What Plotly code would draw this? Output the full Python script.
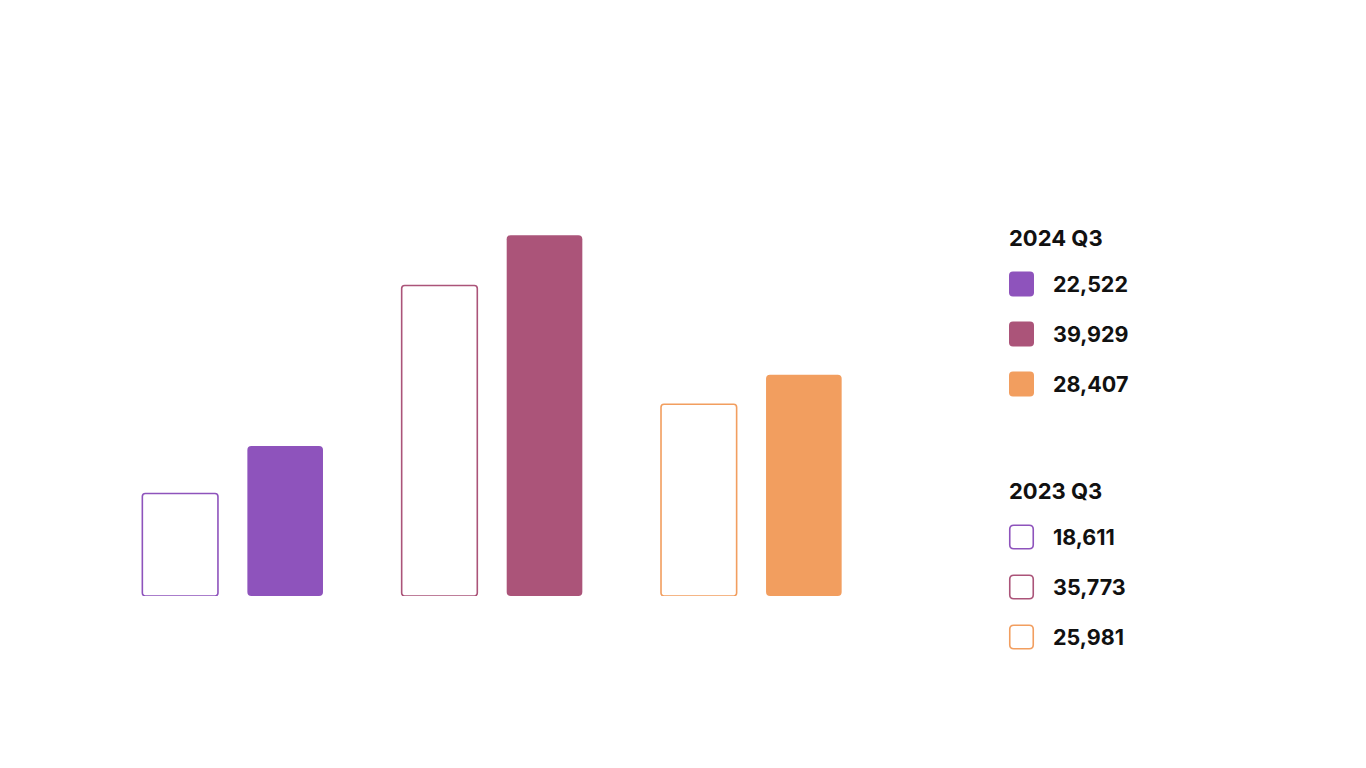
import plotly.graph_objects as go

groups = ["A", "B", "C"]
values_2024 = [22522, 39929, 28407]
values_2023 = [18611, 35773, 25981]
colors = ["#8e53bc", "#ab5479", "#f29e5f"]
series_titles = ["2024 Q3", "2023 Q3"]

# page body adds an 8px margin, so the figure is drawn 8px in
OFF = 8
W, H = 1366 - 2 * OFF, 768 - 2 * OFF
L, T = 103 - OFF, 100 - OFF
R = W - (881 - OFF)
B = H - (596 - OFF)
PW, PH = W - L - R, H - T - B

y_floor = 10150
y_top = 51090

fig = go.Figure()
# outlined bars (last year)
fig.add_trace(go.Bar(
    x=groups, y=[v - y_floor for v in values_2023], base=y_floor,
    name=series_titles[1],
    marker=dict(color="rgba(255,255,255,0)",
                line=dict(color=colors, width=1.6), cornerradius=3),
))
# filled bars (this year)
fig.add_trace(go.Bar(
    x=groups, y=[v - y_floor for v in values_2024], base=y_floor,
    name=series_titles[0],
    marker=dict(color=colors, line=dict(width=0), cornerradius=4),
))


# screen pixel -> paper coords
def px_x(px):
    return (px - OFF - L) / PW


def px_y(py):
    return (H - B - (py - OFF)) / PH


def swatch(s=25, r=4):
    h = s / 2
    k = h - r
    return (f"M {-k},{-h} L {k},{-h} Q {h},{-h} {h},{-k} L {h},{k} "
            f"Q {h},{h} {k},{h} L {-k},{h} Q {-h},{h} {-h},{k} "
            f"L {-h},{-k} Q {-h},{-h} {-k},{-h} Z")


shapes = []
annotations = []
font = "Inter"
blocks = [(series_titles[0], values_2024, True, 238),
          (series_titles[1], values_2023, False, 491)]
for title, vals, filled, y0 in blocks:
    annotations.append(dict(
        xref="paper", yref="paper", x=px_x(1007), y=px_y(y0),
        xanchor="left", yanchor="middle", showarrow=False, text=f"<b>{title}</b>",
        font=dict(family=font, size=22, color="#111111")))
    for i, (v, c) in enumerate(zip(vals, colors)):
        yc = y0 + 46 + i * 50
        shapes.append(dict(
            type="path", xref="paper", yref="paper",
            xsizemode="pixel", ysizemode="pixel",
            xanchor=px_x(1021.5), yanchor=px_y(yc),
            path=swatch(25 if filled else 23.5),
            fillcolor=c if filled else "white",
            line=dict(color=c, width=0 if filled else 1.6)))
        annotations.append(dict(
            xref="paper", yref="paper", x=px_x(1051), y=px_y(yc),
            xanchor="left", yanchor="middle", showarrow=False,
            text=f"<b>{v:,}</b>",
            font=dict(family=font, size=21.5, color="#111111")))

fig.update_layout(
    width=W, height=H,
    margin=dict(l=L, r=R, t=T, b=B),
    barmode="group", bargap=0.19, bargroupgap=0.28,
    plot_bgcolor="white", paper_bgcolor="white",
    showlegend=False,
    xaxis=dict(visible=False, range=[-0.5, 2.5]),
    yaxis=dict(visible=False, range=[y_floor, y_top]),
    shapes=shapes, annotations=annotations,
)

fig.write_html("out.html")
